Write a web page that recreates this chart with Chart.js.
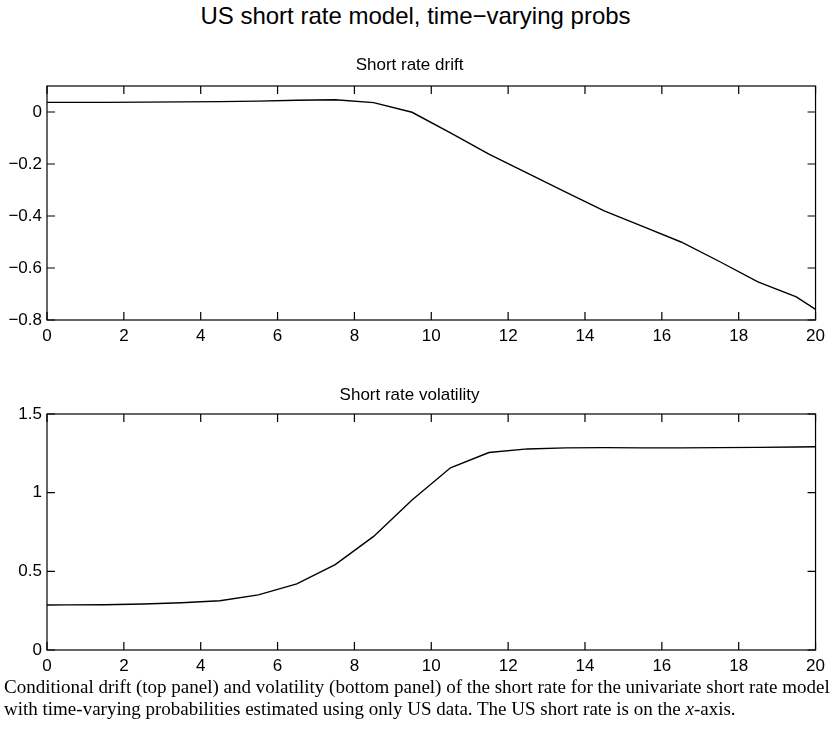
<!DOCTYPE html>
<html>
<head>
<meta charset="utf-8">
<script src="https://cdn.jsdelivr.net/npm/chart.js@4.4.0/dist/chart.umd.min.js"></script>
<style>
  body { margin: 0; background: #fff; width: 831px; height: 731px; position: relative; overflow: hidden; }
  #mainTitle { position: absolute; left: 0; width: 831px; top: 2px; text-align: center;
    font-family: "Liberation Sans", Arial, sans-serif; font-size: 24px; line-height: 28px; color: #000; }
  .panel { position: absolute; left: 0; width: 831px; }
  #caption { position: absolute; left: 4px; top: 676px; width: 830px;
    font-family: "Liberation Serif", "Times New Roman", serif; font-size: 19px; line-height: 22px; color: #000; white-space: nowrap; }
</style>
</head>
<body>
<div id="mainTitle">US short rate model, time&minus;varying probs</div>
<div class="panel" style="top:50px;height:300px"><canvas id="driftChart" width="831" height="300"></canvas></div>
<div class="panel" style="top:375px;height:305px"><canvas id="volChart" width="831" height="305"></canvas></div>
<div id="caption">Conditional drift (top panel) and volatility (bottom panel) of the short rate for the univariate short rate model<br>with time-varying probabilities estimated using only US data. The US short rate is on the <i>x</i>-axis.</div>

<script>
// short rate grid (x axis) and the two estimated curves
const shortRate  = [0, 0.5, 1.5, 2.5, 3.5, 4.5, 5.5, 6.5, 7.5, 8.5, 9.5, 10.5, 11.5, 12.5, 13.5, 14.5, 15.5, 16.5, 17.5, 18.5, 19.5, 20];
const drift      = [0.037, 0.037, 0.037, 0.038, 0.039, 0.040, 0.042, 0.045, 0.047, 0.036, -0.001, -0.080, -0.162, -0.235, -0.308, -0.380, -0.440, -0.500, -0.575, -0.653, -0.711, -0.759];
const volatility = [0.286, 0.287, 0.288, 0.292, 0.300, 0.313, 0.350, 0.420, 0.543, 0.722, 0.953, 1.158, 1.255, 1.278, 1.285, 1.286, 1.285, 1.285, 1.286, 1.288, 1.290, 1.292];

const xTicks     = [0, 2, 4, 6, 8, 10, 12, 14, 16, 18, 20];
const driftTicks = [-0.8, -0.6, -0.4, -0.2, 0];
const volTicks   = [0, 0.5, 1, 1.5];

const tickFont = { family: "Liberation Sans, Arial, sans-serif", size: 17 };

// matlab style box: frame round the plot area with inward ticks on all four sides
const boxTicks = {
  id: 'boxTicks',
  afterDraw(chart) {
    const ctx = chart.ctx;
    const a = chart.chartArea;
    const len = 8;
    ctx.save();
    ctx.strokeStyle = '#000';
    ctx.lineWidth = 1.2;
    ctx.strokeRect(a.left, a.top, a.right - a.left, a.bottom - a.top);
    ctx.beginPath();
    chart.scales.x.ticks.forEach(t => {
      const px = chart.scales.x.getPixelForValue(t.value);
      ctx.moveTo(px, a.bottom); ctx.lineTo(px, a.bottom - len);
      ctx.moveTo(px, a.top); ctx.lineTo(px, a.top + len);
    });
    chart.scales.y.ticks.forEach(t => {
      const py = chart.scales.y.getPixelForValue(t.value);
      ctx.moveTo(a.left, py); ctx.lineTo(a.left + len, py);
      ctx.moveTo(a.right, py); ctx.lineTo(a.right - len, py);
    });
    ctx.stroke();
    ctx.restore();
  }
};

function fmt(v) {
  return String(+v.toFixed(2)).replace('-', '\u2212');
}

function makeChart(id, title, values, yMin, yMax, yTicks, titlePad) {
  const points = [];
  for (let i = 0; i < shortRate.length; i++) {
    points.push({ x: shortRate[i], y: values[i] });
  }
  return new Chart(document.getElementById(id).getContext('2d'), {
    type: 'line',
    data: {
      datasets: [{
        data: points,
        borderColor: '#000',
        borderWidth: 1.4,
        pointRadius: 0,
        tension: 0,
        fill: false
      }]
    },
    options: {
      responsive: false,
      animation: false,
      layout: { padding: { left: 0, right: 12, top: 0, bottom: 0 } },
      plugins: {
        legend: { display: false },
        tooltip: { enabled: false },
        title: {
          display: true,
          text: title,
          color: '#000',
          font: { family: "Liberation Sans, Arial, sans-serif", size: 17, weight: 'normal' },
          padding: titlePad
        }
      },
      scales: {
        x: {
          type: 'linear',
          min: 0, max: 20,
          afterBuildTicks: s => { s.ticks = xTicks.map(v => ({ value: v })); },
          afterFit: s => { s.height = 30; },
          grid: { display: false, drawTicks: false },
          border: { display: false },
          ticks: { color: '#000', font: tickFont, padding: 6, maxRotation: 0, autoSkip: false }
        },
        y: {
          type: 'linear',
          min: yMin, max: yMax,
          afterBuildTicks: s => { s.ticks = yTicks.map(v => ({ value: v })); },
          afterFit: s => { s.width = 47; },
          grid: { display: false, drawTicks: false },
          border: { display: false },
          ticks: { color: '#000', font: tickFont, padding: 5, callback: v => fmt(v) }
        }
      }
    },
    plugins: [boxTicks]
  });
}

makeChart('driftChart', 'Short rate drift', drift, -0.8, 0.1, driftTicks, { top: 4.8, bottom: 10.8 });
makeChart('volChart', 'Short rate volatility', volatility, 0, 1.5, volTicks, { top: 9.8, bottom: 8.8 });
</script>
</body>
</html>
